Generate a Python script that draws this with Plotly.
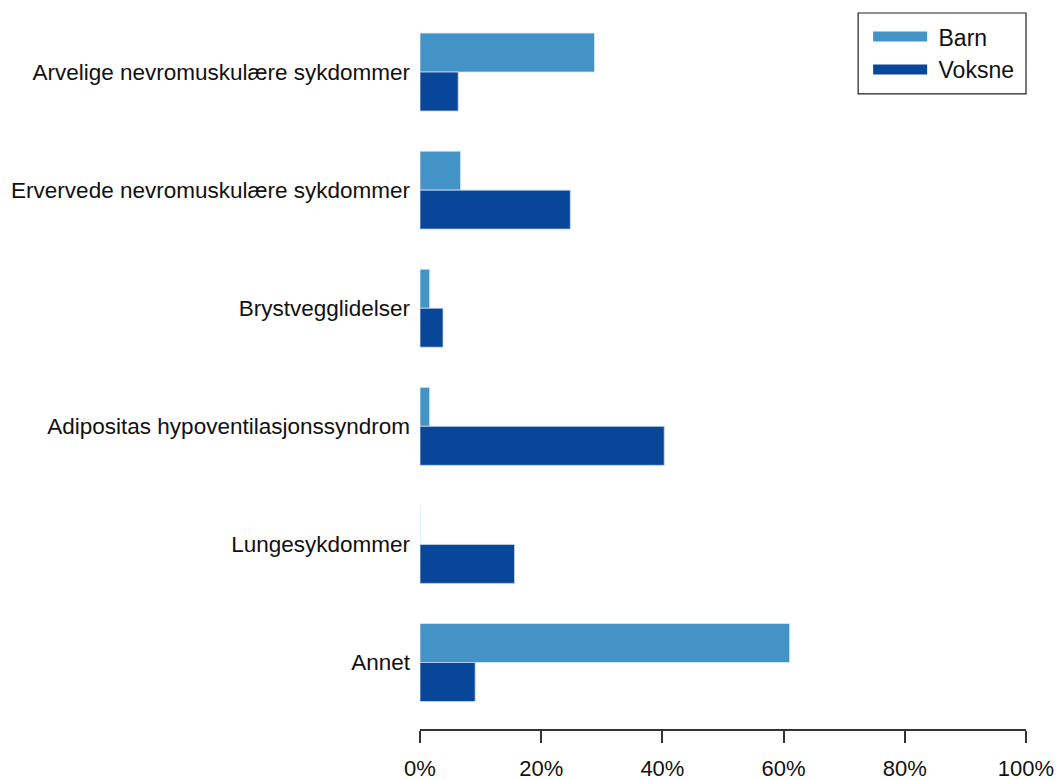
import plotly.graph_objects as go

# data (percent)
categories = [
    "Arvelige nevromuskulære sykdommer",
    "Ervervede nevromuskulære sykdommer",
    "Brystvegglidelser",
    "Adipositas hypoventilasjonssyndrom",
    "Lungesykdommer",
    "Annet",
]
barn = [28.8, 6.7, 1.6, 1.6, 0.0, 61.0]
voksne = [6.3, 24.8, 3.8, 40.3, 15.6, 9.1]
x_ticks = [0, 20, 40, 60, 80, 100]
x_tick_labels = ["0%", "20%", "40%", "60%", "80%", "100%"]

BARN_COLOR = "#4393c7"
VOKSNE_COLOR = "#08469a"
FONT = "Liberation Sans, Arial, sans-serif"

fig = go.Figure()

# --------------------------------------------------
# bars
# --------------------------------------------------

fig.add_trace(
    go.Bar(
        y=categories,
        x=barn,
        orientation="h",
        name="Barn",
        marker=dict(color=BARN_COLOR, line=dict(color="#d6e8f5", width=0.8)),
        showlegend=False,
    )
)

fig.add_trace(
    go.Bar(
        y=categories,
        x=voksne,
        orientation="h",
        name="Voksne",
        marker=dict(color=VOKSNE_COLOR, line=dict(color="#c9d7ea", width=0.8)),
        showlegend=False,
    )
)

# --------------------------------------------------
# legend entries (thick line keys like the original)
# --------------------------------------------------

for name, color in [("Barn", BARN_COLOR), ("Voksne", VOKSNE_COLOR)]:
    fig.add_trace(
        go.Scatter(
            x=[None],
            y=[None],
            mode="lines",
            name="\u00a0" + name,
            line=dict(color=color, width=12),
        )
    )

# legend frame, drawn as a shape so its size matches the original box
fig.add_shape(
    type="rect",
    xref="paper",
    yref="paper",
    x0=0.723,
    x1=1.0,
    y0=0.887,
    y1=1.0,
    line=dict(color="#222222", width=1.2),
    fillcolor="rgba(0,0,0,0)",
    layer="above",
)

fig.update_layout(
    width=1059,
    height=780,
    paper_bgcolor="white",
    plot_bgcolor="white",
    margin=dict(l=419.5, r=33, t=13, b=50.5),
    barmode="group",
    bargap=0.34,
    bargroupgap=0,
    font=dict(family=FONT, size=22.5, color="#111111"),
    legend=dict(
        x=0.7395,
        y=0.997,
        xanchor="left",
        yanchor="top",
        borderwidth=0,
        bgcolor="rgba(0,0,0,0)",
        font=dict(size=23, family=FONT, color="#111111"),
        itemwidth=54,
        tracegroupgap=0,
    ),
    showlegend=True,
)

fig.update_xaxes(
    range=[0, 100],
    tickvals=x_ticks,
    ticktext=x_tick_labels,
    automargin=False,
    showgrid=False,
    zeroline=False,
    showline=True,
    linecolor="#333333",
    linewidth=1.5,
    ticks="outside",
    ticklen=12,
    tickwidth=1.5,
    tickcolor="#333333",
    ticklabelstandoff=7,
    tickfont=dict(size=22, family=FONT, color="#111111"),
)

fig.update_yaxes(
    range=[5.563, -0.5],
    automargin=False,
    showgrid=False,
    zeroline=False,
    showline=False,
    ticks="",
    ticklabelstandoff=9,
    tickfont=dict(size=22.5, family=FONT, color="#111111"),
)

# remove the browser's default body margin so the figure sits at 0,0
fig.write_html(
    "out.html",
    config={"displayModeBar": False},
    post_script="document.body.style.margin='0';",
)
